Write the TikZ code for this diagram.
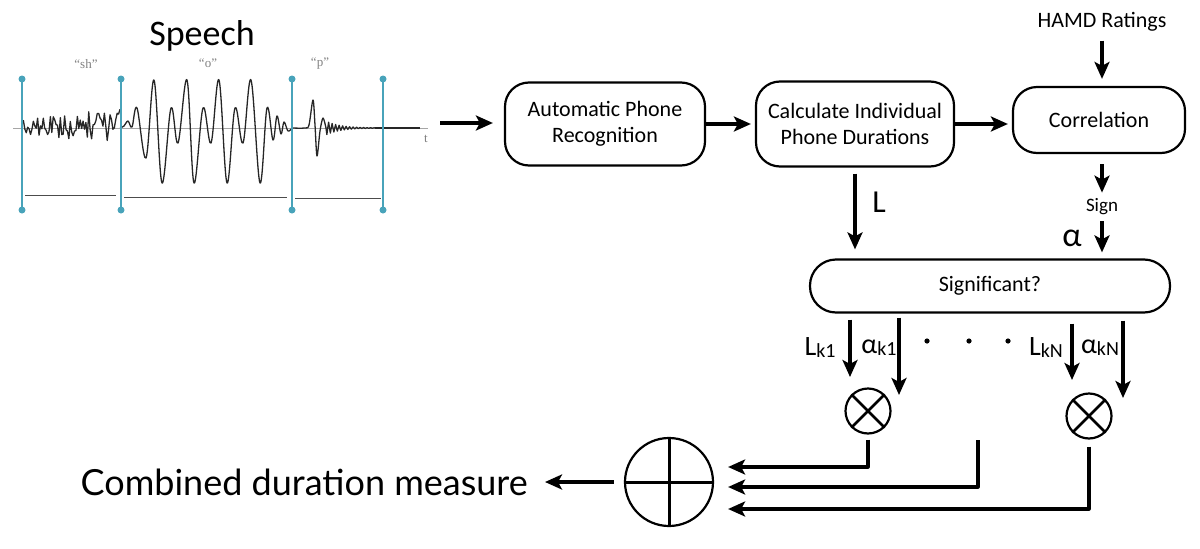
\documentclass[tikz,border=0pt]{standalone}
\usepackage{fontspec}
\setmainfont{Carlito}
\newfontfamily\titlefont{Lato}
\newfontfamily\wavefont{Liberation Serif}
\usetikzlibrary{arrows.meta,calc,positioning}
\definecolor{cursorblue}{RGB}{72,163,186}
\newcommand{\sublbl}[2]{#1\raisebox{-2pt}{\fontsize{20}{20}\selectfont #2}}
\begin{document}
\begin{tikzpicture}[x=1pt, y=-1pt, line join=round,
  box/.style={draw, line width=2.2pt, rounded corners=24pt, align=center, inner sep=0pt, font=\fontsize{22}{26.4}\selectfont},
  arr/.style={-{Stealth[length=17pt,width=15pt,inset=4pt]}, line width=3.2pt},
  mult/.style={circle, draw, line width=2.2pt, minimum size=45pt, inner sep=0pt},
  lbl/.style={inner sep=0pt, font=\fontsize{28}{28}\selectfont},
  cursor/.style={cursorblue, line width=2.6pt},
  wave/.style={black!85, line width=1.3pt},
  phone/.style={inner sep=0pt, gray, font=\wavefont\fontsize{13}{13}\selectfont}]
\useasboundingbox (0,0) rectangle (1200,549);
% speech signal
\node[inner sep=0pt, font=\fontsize{36}{36}\selectfont] (speech) at (202,36) {Speech};
\draw[gray!70, line width=0.8pt] (13,128) -- (428,128);
\node[phone] (t) at (426,139) {t};
\node[phone] (sh) at (86,64) {“sh”};
\node[phone] (o) at (208,63) {“o”};
\node[phone] (p) at (320,64) {“p”};
\pgfmathsetseed{3}
\draw[wave] plot[domain=22:120, samples=70] (\x,{126-(8+0.1*(\x-22))*rand});
\draw[wave] plot[smooth, tension=0.6] coordinates {(120,128) (124,126) (128,121) (132,127) (137,108) (146,158) (154,80) (162,183) (171,108) (178,143) (187,80) (194,183) (203,108) (211,143) (219,80) (227,183) (235,108) (243,143) (251,80) (260,183) (267,108) (273,140) (277,116) (281,134) (284,122) (288,131) (292,128)};
\draw[wave] plot[smooth, tension=0.5] coordinates {(292,128) (305,128) (309,125) (313,100) (315,125) (317,156) (320,131) (323,118) (326,128)};
\draw[wave] plot[domain=326:375, samples=57] (\x,{128+7*exp(-(\x-326)/14)*sin(103*(\x-326))});
\draw[wave] (375,128) -- (420,128);
\foreach \x in {22,121,292,383}{
  \draw[cursor] (\x,79) -- (\x,210);
  \fill[cursorblue] (\x,79) circle (3.5pt) (\x,210) circle (3.5pt);
}
\draw[black!70, line width=0.8pt] (25,195) -- (116,195) (124,197) -- (287,197) (295,198) -- (381,198);
\coordinate (src) at (440,123);
% blocks
\node[box, minimum width=200pt, minimum height=83pt] (apr) at (605,124) {Automatic Phone\\Recognition};
\node[box, minimum width=198pt, minimum height=85pt] (cipd) at (855,124) {Calculate Individual\\Phone Durations};
\node[box, minimum width=172pt, minimum height=66pt] (corr) at (1099,120) {Correlation};
\node[inner sep=0pt, font=\fontsize{22}{22}\selectfont] (hamd) at (1102,22) {HAMD Ratings};
\node[inner sep=0pt, font=\fontsize{19}{19}\selectfont] (sign) at (1102,207) {Sign};
\node[inner sep=0pt, font=\fontsize{34}{34}\selectfont] (alpha) at (1072,238) {α};
\node[inner sep=0pt, font=\fontsize{32}{32}\selectfont] (L) at (879,202) {L};
\node[box, rounded corners=26pt, minimum width=360pt, minimum height=53pt] (sig) at (990,286) {Significant?};
\draw[arr, shorten >=11pt] (src) -- (src -| apr.west);
\draw[arr, shorten >=4pt] (apr.east) -- (apr.east -| cipd.west);
\draw[arr, shorten >=4pt] (cipd.east) -- (cipd.east -| corr.west);
\draw[arr, shorten <=9pt, shorten >=7pt] (hamd.south) -- (hamd.south |- corr.north);
\draw[arr, shorten <=10pt, shorten >=6pt] (corr.south -| sign) -- (sign.north);
\draw[arr, shorten <=6pt, shorten >=6pt] (sign.south) -- (sign.south |- sig.north);
\draw[arr, shorten <=6pt, shorten >=9pt] (cipd.south) -- (cipd.south |- sig.north);
% weighting
\node[lbl] (lk1) at (820,348) {\sublbl{L}{k1}};
\node[lbl] (ak1) at (879,348) {\sublbl{α}{k1}};
\node[lbl] (lkn) at (1046,348) {\sublbl{L}{kN}};
\node[lbl] (akn) at (1100,348) {\sublbl{α}{kN}};
\foreach \x in {927,969,1008} \fill (\x,341) circle (2.6pt);
\node[mult] (m1) at (868,411) {};
\node[mult] (m2) at (1089,416) {};
\foreach \m in {m1,m2}
  \draw[line width=2.8pt] (\m.north west) -- (\m.south east) (\m.north east) -- (\m.south west);
\coordinate (lk1end) at (850,377);
\coordinate (ak1end) at (899,395);
\coordinate (lknend) at (1072,380);
\coordinate (aknend) at (1123,398);
\draw[arr, shorten <=6pt] (sig.south -| lk1end) -- (lk1end);
\draw[arr, shorten <=4pt] (sig.south -| ak1end) -- (ak1end);
\draw[arr, shorten <=10pt] (sig.south -| lknend) -- (lknend);
\draw[arr, shorten <=7pt] (sig.south -| aknend) -- (aknend);
% summation
\node[circle, draw, line width=2.2pt, minimum size=88pt, inner sep=0pt] (sum) at (669,482) {};
\draw[line width=3pt] (sum.north) -- (sum.south) (sum.west) -- (sum.east);
\coordinate (gap) at (978,440);
\draw[arr, shorten <=5pt] (m1.south) |- ($(sum.east)+(14,-15)$);
\draw[arr] (gap) |- ($(sum.east)+(14,5)$);
\draw[arr, shorten <=7pt] (m2.south) |- ($(sum.east)+(14,27)$);
\node[inner sep=0pt, anchor=east, font=\titlefont\fontsize{36}{36}\selectfont] (out) at (528,482) {Combined duration measure};
\draw[arr, shorten <=10pt] (sum.west) -- ($(out.east)+(17,0)$);
\end{tikzpicture}
\end{document}
